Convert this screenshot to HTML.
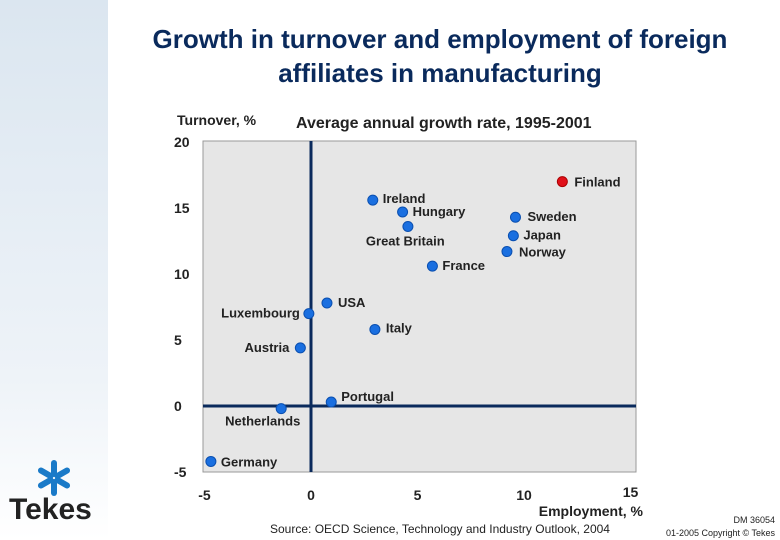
<!DOCTYPE html>
<html><head><meta charset="utf-8"><style>
body{margin:0;width:780px;height:540px;overflow:hidden;background:#fff;font-family:"Liberation Sans",Arial,sans-serif;position:relative}
.side{position:absolute;left:0;top:0;width:108px;height:540px;background:linear-gradient(#dbe6f0,#eef3f8 70%,#fff)}
.t{position:absolute;font-weight:bold;color:#222}
</style></head><body>
<div class="side"></div>
<div class="t" style="left:110px;top:22px;width:660px;text-align:center;font-size:26px;color:#0a2a5c;line-height:34px">Growth in turnover and employment of foreign<br>affiliates in manufacturing</div>
<svg width="780" height="540" style="position:absolute;left:0;top:0" id="chart"></svg>
<script>
const countries=["Finland","Ireland","Hungary","Great Britain","France","Sweden","Japan","Norway","USA","Luxembourg","Italy","Austria","Portugal","Netherlands","Germany"];
const employment=[11.8,2.9,4.3,4.55,5.7,9.6,9.5,9.2,0.75,-0.1,3.0,-0.5,0.95,-1.4,-4.7];
const turnover=[17.0,15.6,14.7,13.6,10.6,14.3,12.9,11.7,7.8,7.0,5.8,4.4,0.3,-0.2,-4.2];
const labelPos=[[12,5,"start"],[10,3,"start"],[10,4,"start"],[-42,19,"start"],[10,4,"start"],[12,4,"start"],[10,4,"start"],[12,5,"start"],[11,4,"start"],[-9,4,"end"],[11,3,"start"],[-11,4,"end"],[10,-1,"start"],[-56,17,"start"],[10,5,"start"]];
const xTicks=[-5,0,5,10,15];
const yTicks=[20,15,10,5,0,-5];
const ns="http://www.w3.org/2000/svg",svg=document.getElementById('chart');
const X=v=>311+v*21.3, Y=v=>406-v*13.2;
function el(t,a,txt){const e=document.createElementNS(ns,t);for(const k in a)e.setAttribute(k,a[k]);if(txt!==undefined)e.textContent=txt;svg.appendChild(e);return e;}
let p=el('rect',{x:203,y:141,width:433,height:331,fill:'#e6e6e6',stroke:'#999'});

let a=el('line',{x1:X(0),x2:X(0),y1:141,y2:472,stroke:'#0a2a5c','stroke-width':3});

a=el('line',{x1:203,x2:636,y1:Y(0),y2:Y(0),stroke:'#0a2a5c','stroke-width':3});

xTicks.forEach(v=>{let t=el('text',{x:X(v),y:500,'text-anchor':'middle','font-size':14,'font-weight':'bold',fill:'#222',dy:v==15?-3:0},String(v));
});
yTicks.forEach(v=>{let t=el('text',{x:174,y:Y(v)+5,'font-size':14,'font-weight':'bold',fill:'#222'},String(v));
});
let t=el('text',{x:177,y:125,'font-size':14,'font-weight':'bold',fill:'#222'},'Turnover, %');

t=el('text',{x:296,y:128,'font-size':16,'font-weight':'bold',fill:'#222'},'Average annual growth rate, 1995-2001');

t=el('text',{x:643,y:516,'text-anchor':'end','font-size':14,'font-weight':'bold',fill:'#222'},'Employment, %');

countries.forEach((c,i)=>{const cx=X(employment[i]),cy=Y(turnover[i]);
let d=el('circle',{cx:cx,cy:cy,r:5,fill:i==0?'#e0101a':'#1a6fe0',stroke:i==0?'#a00':'#0a4fb0'});

let l=el('text',{x:cx+labelPos[i][0],y:cy+labelPos[i][1],'text-anchor':labelPos[i][2],'font-size':13,'font-weight':'bold',fill:'#222'},c);
});
t=el('text',{x:440,y:533,'text-anchor':'middle','font-size':12,fill:'#222'},'Source: OECD Science, Technology and Industry Outlook, 2004');

t=el('text',{x:775,y:523,'text-anchor':'end','font-size':9,fill:'#222'},'DM 36054');

t=el('text',{x:775,y:536,'text-anchor':'end','font-size':9,fill:'#222'},'01-2005 Copyright © Tekes');

const g=el('g',{stroke:'#1a7ac8','stroke-width':6,'stroke-linecap':'round'});

[[0,-1],[0.87,-0.5],[0.87,0.5],[0,1],[-0.87,0.5],[-0.87,-0.5]].forEach(v=>{const l=document.createElementNS(ns,'line');l.setAttribute('x1',54+v[0]*4);l.setAttribute('y1',478+v[1]*4);l.setAttribute('x2',54+v[0]*15);l.setAttribute('y2',478+v[1]*15);g.appendChild(l);});
t=el('text',{x:9,y:519,'font-size':30,'font-weight':'bold',fill:'#222'},'Tekes');

</script>
</body></html>
